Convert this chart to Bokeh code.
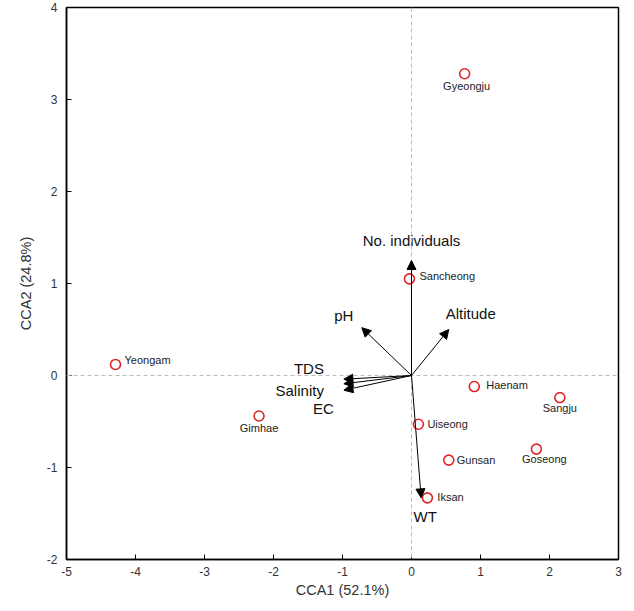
from bokeh.plotting import figure
from bokeh.models import ColumnDataSource, Arrow, NormalHead, Span, FixedTicker
from bokeh.core.properties import value
from bokeh.embed import file_html
from bokeh.resources import INLINE

# Site scores
sites = ["Gyeongju", "Sancheong", "Yeongam", "Gimhae", "Haenam", "Sangju",
         "Uiseong", "Gunsan", "Goseong", "Iksan"]
site_x = [0.77, -0.03, -4.29, -2.21, 0.91, 2.15, 0.10, 0.54, 1.81, 0.23]
site_y = [3.28, 1.05, 0.12, -0.44, -0.12, -0.24, -0.53, -0.92, -0.80, -1.33]

# Environmental vectors
vectors = ["No. individuals", "pH", "Altitude", "TDS", "Salinity", "EC", "WT"]
vec_x = [0.0, -0.72, 0.54, -0.98, -0.98, -0.98, 0.14]
vec_y = [1.25, 0.52, 0.50, -0.04, -0.09, -0.16, -1.33]

x_ticks = [-5, -4, -3, -2, -1, 0, 1, 2, 3]
y_ticks = [-2, -1, 0, 1, 2, 3, 4]

FONT = "Liberation Sans"

# label placement (pixels) - style only
site_dx = [2, 10, 9, 0, 12, 0, 9, 8, 8, 10]
site_dy = [12, -3, -4, 12, -2, 10, 0, 0, 10, -1]
site_align = ["center", "left", "left", "center", "left", "center", "left", "left", "center", "left"]

vec_dx = [0, -18, 22, -20, -20, -10, 4]
vec_dy = [-20, -12, -16, -11, 7, 18, 19]
vec_align = ["center", "center", "center", "right", "right", "right", "center"]

p = figure(width=624, height=603, x_range=(-5, 3), y_range=(-2, 4),
           output_backend="svg", toolbar_location=None,
           min_border_left=66, min_border_right=6, min_border_top=7, min_border_bottom=44)
p.grid.visible = False
p.outline_line_color = "black"
p.outline_line_width = 1.5
p.background_fill_color = "white"
p.border_fill_color = "white"

for ax in (p.xaxis, p.yaxis):
    ax.axis_line_color = "black"
    ax.axis_line_width = 1.5
    ax.major_tick_in = 5
    ax.major_tick_out = 0
    ax.minor_tick_line_color = None
    ax.major_label_text_font = FONT
    ax.major_label_text_font_size = "12px"
    ax.major_label_text_color = "#333333"
    ax.axis_label_text_font = FONT
    ax.axis_label_text_font_size = "14.5px"
    ax.axis_label_text_font_style = "normal"
    ax.axis_label_text_color = "#333333"

p.xaxis.ticker = FixedTicker(ticks=x_ticks)
p.yaxis.ticker = FixedTicker(ticks=y_ticks)
p.xaxis.major_label_overrides = {t: str(t) for t in x_ticks}
p.yaxis.major_label_overrides = {t: str(t) for t in y_ticks}
p.xaxis.axis_label = "CCA1 (52.1%)"
p.yaxis.axis_label = "CCA2 (24.8%)"
p.xaxis.major_label_standoff = 7
p.yaxis.major_label_standoff = 9
p.xaxis.axis_label_standoff = 3
p.yaxis.axis_label_standoff = 10

for dim in ("width", "height"):
    p.add_layout(Span(location=0, dimension=dim, line_color="#bbbbbb",
                      line_dash="4 3", line_width=1))

vsrc = ColumnDataSource(dict(x0=[0] * len(vec_x), y0=[0] * len(vec_y), x1=vec_x, y1=vec_y,
                             name=vectors, dx=vec_dx, dy=vec_dy, align=vec_align))
p.add_layout(Arrow(source=vsrc, x_start="x0", y_start="y0", x_end="x1", y_end="y1",
                   line_color="black", line_width=1,
                   end=NormalHead(size=9, fill_color="black", line_color="black", line_width=1)))
p.text(x="x1", y="y1", text="name", source=vsrc, x_offset="dx", y_offset="dy",
       text_align="align", text_baseline="middle", text_font=value(FONT),
       text_font_size="15px", text_color="#111111")

ssrc = ColumnDataSource(dict(x=site_x, y=site_y, name=sites, dx=site_dx, dy=site_dy,
                             align=site_align))
p.scatter(x="x", y="y", source=ssrc, marker="circle", size=10, fill_color=None,
          line_color="#e0262a", line_width=1.6)
p.text(x="x", y="y", text="name", source=ssrc, x_offset="dx", y_offset="dy",
       text_align="align", text_baseline="middle", text_font=value(FONT),
       text_font_size="11px", text_color="#222222")

open("out.html", "w").write(file_html(p, INLINE))
